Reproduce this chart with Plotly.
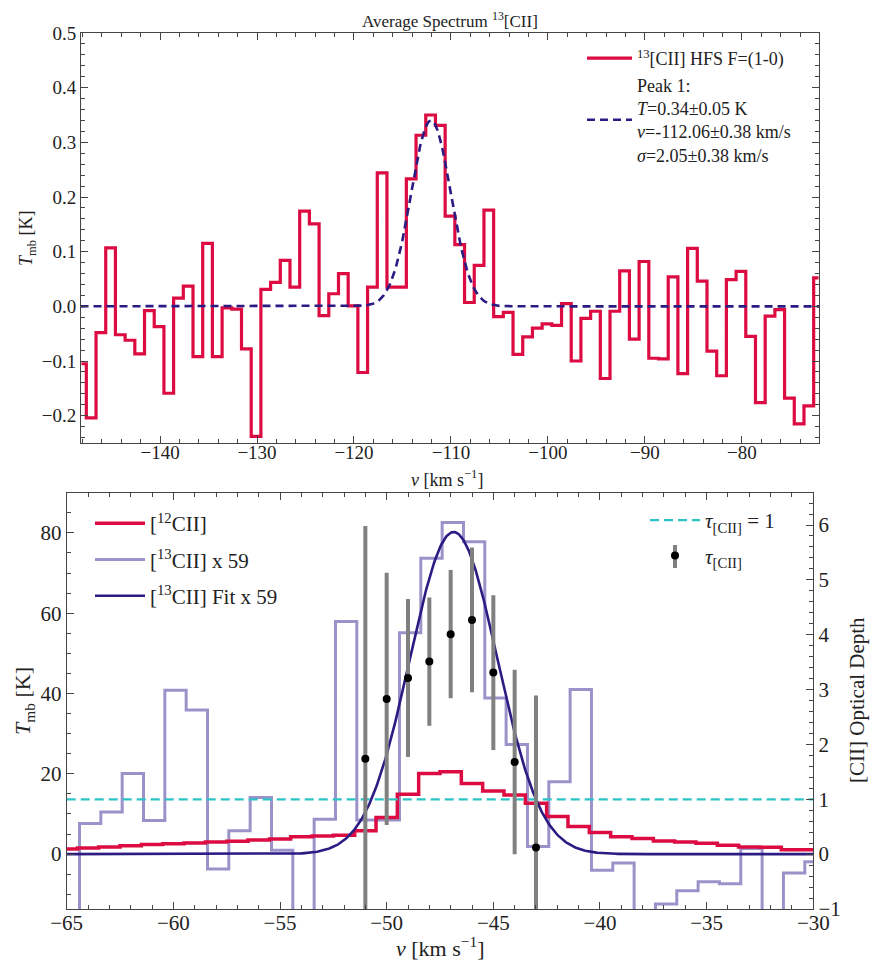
import numpy as np
import plotly.graph_objects as go

# ---------------- top panel: 13[CII] HFS F=(1-0) average spectrum ----------------
top_v_first = -148.1          # centre of first channel (km/s)
top_chan = 1.0                # channel width (km/s)
top_T = [-0.105, -0.204, -0.048, 0.107, -0.052, -0.062, -0.087, -0.008, -0.037, -0.159,
         0.015, 0.037, -0.092, 0.115, -0.092, -0.003, -0.005, -0.078, -0.238, 0.031,
         0.044, 0.084, 0.035, 0.174, 0.151, -0.017, 0.023, 0.060, 0.001, -0.121,
         0.035, 0.244, 0.035, 0.035, 0.233, 0.313, 0.350, 0.331, 0.165, 0.113,
         0.007, 0.075, 0.176, -0.019, -0.011, -0.088, -0.056, -0.040, -0.032, -0.035,
         0.005, -0.100, -0.022, -0.009, -0.132, -0.009, 0.065, -0.060, 0.082, -0.095,
         -0.096, 0.054, -0.123, 0.106, 0.046, -0.082, -0.127, 0.049, 0.064, -0.055,
         -0.176, -0.018, -0.006, -0.168, -0.215, -0.182, 0.052]
top_v = [top_v_first + i * top_chan for i in range(len(top_T))]

# Gaussian fit parameters (from legend)
fit_T, fit_v, fit_sigma = 0.34, -112.06, 2.05

# ---------------- bottom panel ----------------
v12 = list(range(-65, -29))
T12 = [1.3, 1.5, 1.8, 2.1, 2.4, 2.6, 2.8, 3.0, 3.2, 3.5, 3.8, 4.3, 4.5, 4.7,
       5.8, 9.1, 14.9, 20.1, 20.5, 17.6, 15.7, 14.7, 12.7, 9.4, 6.9, 5.4,
       4.3, 3.9, 3.3, 3.0, 2.7, 2.2, 1.8, 1.7, 1.1, 1.1]

v13_first = -64.9
T13x59 = [-56.0, 7.6, 10.5, 20.1, 8.4, 40.8, 35.9, -3.7, 5.8, 14.1,
          1.0, -28.6, 8.7, 57.9, 8.5, 8.5, 55.1, 73.7, 82.6, 77.8,
          38.9, 27.3, 1.9, 18.0, 41.0, -4.0, -2.2, -20.8, -12.4, -9.1,
          -6.9, -7.4, 1.4, -23.6, -4.7, -1.9]
v13 = [v13_first + i * 1.0 for i in range(len(T13x59))]

fit59_T, fit59_v, fit59_sigma = 80.2, -46.86, 2.05

tau_v = [-51, -50, -49, -48, -47, -46, -45, -44, -43]
tau = [1.74, 2.83, 3.21, 3.51, 4.01, 4.27, 3.31, 1.68, 0.12]
tau_err = [4.24, 2.30, 1.44, 1.17, 1.17, 1.32, 1.41, 1.68, 2.77]
tau_one = 1.0

# ---------------- styling ----------------
RED = "#DC0C42"
LAV = "#9C92CA"
IND = "#2D1B84"
CYAN = "#2CC3C6"
GREY = "#808080"
FONT = "Liberation Serif, Times New Roman, serif"
W, H = 870, 961

def px_x(p):
    return p / W

def px_y(p):
    return 1 - p / H

fig = go.Figure()

# top spectrum
fig.add_trace(go.Scatter(x=top_v, y=top_T, mode="lines", line=dict(shape="hvh", color=RED, width=3.2),
                         name="<sup>13</sup>[CII] HFS F=(1-0)", xaxis="x", yaxis="y", legend="legend"))
vg = np.linspace(-148.2, -72.0, 800)
fig.add_trace(go.Scatter(x=vg, y=fit_T * np.exp(-0.5 * ((vg - fit_v) / fit_sigma) ** 2), mode="lines",
                         line=dict(color=IND, width=2.6, dash="8px,5px"),
                         name="Peak 1:<br><i>T</i>=0.34±0.05 K<br><i>v</i>=-112.06±0.38 km/s<br><i>σ</i>=2.05±0.38 km/s",
                         xaxis="x", yaxis="y", legend="legend"))

# bottom
fig.add_trace(go.Scatter(x=v13, y=T13x59, mode="lines", line=dict(shape="hvh", color=LAV, width=3),
                         name="[<sup>13</sup>CII] x 59", xaxis="x2", yaxis="y2", legend="legend2",
                         legendrank=2, legendgroup="b"))
fig.add_trace(go.Scatter(x=v12, y=T12, mode="lines", line=dict(shape="hvh", color=RED, width=3.5),
                         name="[<sup>12</sup>CII]", xaxis="x2", yaxis="y2", legend="legend2",
                         legendrank=1, legendgroup="a"))
vb = np.linspace(-65, -30, 800)
fig.add_trace(go.Scatter(x=vb, y=fit59_T * np.exp(-0.5 * ((vb - fit59_v) / fit59_sigma) ** 2), mode="lines",
                         line=dict(color=IND, width=2.6),
                         name="[<sup>13</sup>CII] Fit x 59", xaxis="x2", yaxis="y2", legend="legend2",
                         legendrank=3, legendgroup="c"))
fig.add_trace(go.Scatter(x=[-65, -30], y=[tau_one, tau_one], mode="lines",
                         line=dict(color=CYAN, width=2.2, dash="9px,5px"),
                         name="<i>τ</i><sub>[CII]</sub> = 1", xaxis="x2", yaxis="y3", legend="legend3",
                         legendgroup="d"))
fig.add_trace(go.Scatter(x=tau_v, y=tau, mode="markers",
                         marker=dict(color="black", size=8),
                         error_y=dict(type="data", array=tau_err, color=GREY, thickness=4, width=0),
                         name="<i>τ</i><sub>[CII]</sub>", xaxis="x2", yaxis="y3", legend="legend3",
                         legendgroup="e"))

axcol = "#444"
tickfont_top = dict(family=FONT, size=19, color="#222")
tickfont_bot = dict(family=FONT, size=21, color="#222")
common = dict(showgrid=False, zeroline=False, showline=True, linecolor=axcol, linewidth=1,
              ticks="inside", tickcolor=axcol, ticklen=7, tickwidth=1, automargin=False)

fig.update_layout(
    width=W, height=H, margin=dict(l=0, r=0, t=0, b=0, pad=0, autoexpand=False),
    paper_bgcolor="white", plot_bgcolor="white",
    xaxis=dict(domain=[px_x(81), px_x(819)], anchor="y", range=[-148.15, -72.05],
               tickvals=[-140, -130, -120, -110, -100, -90, -80], mirror="ticks",
               minor=dict(dtick=2, tick0=0, ticks="inside", ticklen=4, tickcolor=axcol),
               tickfont=tickfont_top, ticklabelstandoff=-8, **common),
    yaxis=dict(domain=[px_y(443), px_y(33)], anchor="x", range=[-0.25, 0.5], dtick=0.1, tick0=0,
               tickformat=".1f", mirror="ticks",
               minor=dict(dtick=0.02, tick0=0, ticks="inside", ticklen=4, tickcolor=axcol),
               tickfont=tickfont_top, **common),
    xaxis2=dict(domain=[px_x(66.7), px_x(813.3)], anchor="y2", range=[-65, -30], dtick=5, tick0=0,
                mirror="ticks",
                minor=dict(dtick=1, tick0=0, ticks="inside", ticklen=4, tickcolor=axcol),
                tickfont=tickfont_bot, ticklabelstandoff=-5, **common),
    yaxis2=dict(domain=[px_y(909), px_y(492.7)], anchor="x2", range=[-13.66, 90], dtick=20, tick0=0,
                minor=dict(dtick=5, tick0=0, ticks="inside", ticklen=4, tickcolor=axcol),
                tickfont=tickfont_bot, **common),
    yaxis3=dict(overlaying="y2", anchor="x2", side="right", range=[-1, 6.589], dtick=1, tick0=0,
                minor=dict(dtick=0.2, tick0=0, ticks="inside", ticklen=4, tickcolor=axcol),
                tickfont=tickfont_bot, **common),
    legend=dict(x=px_x(582), y=px_y(40), xanchor="left", yanchor="top", bgcolor="rgba(255,255,255,0)",
                font=dict(family=FONT, size=18, color="#222"), tracegroupgap=2, itemwidth=45),
    legend2=dict(x=px_x(90), y=px_y(503), xanchor="left", yanchor="top", bgcolor="rgba(255,255,255,0)",
                 font=dict(family=FONT, size=21, color="#222"), traceorder="grouped", tracegroupgap=6,
                 itemwidth=50),
    legend3=dict(x=px_x(645), y=px_y(500), xanchor="left", yanchor="top", bgcolor="rgba(255,255,255,0)",
                 font=dict(family=FONT, size=21, color="#222"), traceorder="grouped", tracegroupgap=5,
                 itemwidth=50),
)

# grey bar behind the legend marker of the optical-depth points
fig.add_shape(type="line", xref="paper", yref="paper", x0=px_x(675), x1=px_x(675),
              y0=px_y(545), y1=px_y(568), line=dict(color=GREY, width=4), layer="above")

ann = [
    dict(text="Average Spectrum <sup>13</sup>[CII]", x=px_x(450), y=px_y(20), size=17, angle=0),
    dict(text="<i>T</i><sub>mb</sub> [K]", x=px_x(28), y=px_y(238), size=18, angle=-90),
    dict(text="<i>v</i> [km s<sup>−1</sup>]", x=px_x(447), y=px_y(478), size=18, angle=0),
    dict(text="<i>T</i><sub>mb</sub> [K]", x=px_x(24), y=px_y(701), size=22, angle=-90),
    dict(text="<i>v</i> [km s<sup>−1</sup>]", x=px_x(440), y=px_y(947), size=22, angle=0),
    dict(text="[CII] Optical Depth", x=px_x(857), y=px_y(700), size=21, angle=-90),
]
for a in ann:
    fig.add_annotation(text=a["text"], x=a["x"], y=a["y"], xref="paper", yref="paper",
                       showarrow=False, textangle=a["angle"], xanchor="center", yanchor="middle",
                       font=dict(family=FONT, size=a["size"], color="#222"))

fig.write_html("out.html", config={"displayModeBar": False},
               post_script="document.body.style.margin='0px';")
